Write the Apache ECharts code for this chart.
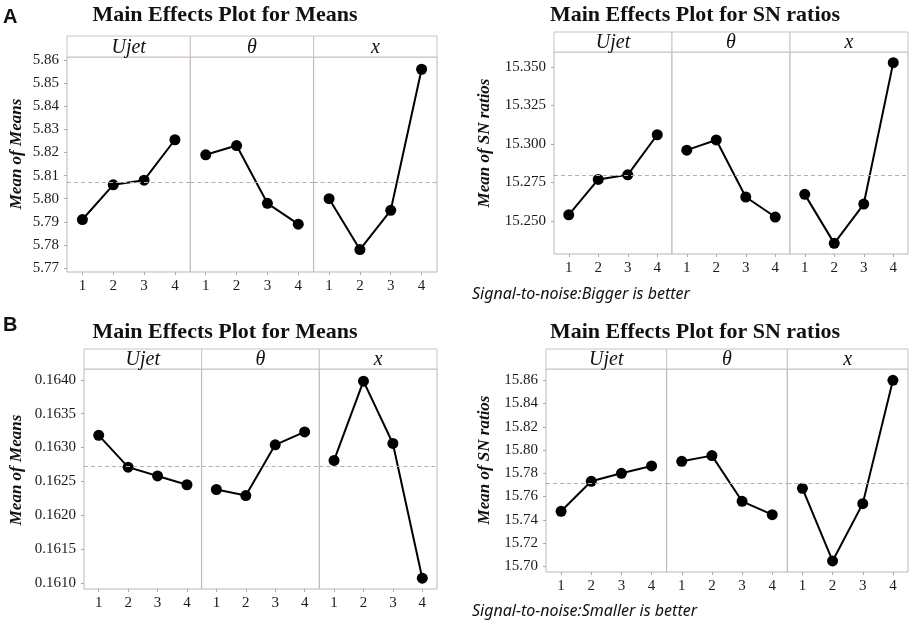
<!DOCTYPE html>
<html>
<head>
<meta charset="utf-8">
<script src="https://cdn.jsdelivr.net/npm/echarts@6/dist/echarts.min.js"></script>
<style>
html, body { margin: 0; padding: 0; background: #fff; }
#main { width: 913px; height: 622px; }
</style>
</head>
<body>
<div id="main"></div>
<script>
var levels = ['1', '2', '3', '4'];
var factors = ['Ujet', 'θ', 'x'];

// A - means (rows: Ujet, theta, x)
var meansA = [
    [5.791, 5.806, 5.808, 5.8255],
    [5.819, 5.823, 5.798, 5.789],
    [5.800, 5.778, 5.795, 5.856]
];
var meanLineA = 5.8073;
var ticksMeansA = [5.77, 5.78, 5.79, 5.80, 5.81, 5.82, 5.83, 5.84, 5.85, 5.86];

// A - SN ratios
var snA = [
    [15.254, 15.277, 15.280, 15.306],
    [15.296, 15.3026, 15.2656, 15.2526],
    [15.2673, 15.2355, 15.261, 15.3528]
];
var snLineA = 15.2794;
var ticksSnA = [15.250, 15.275, 15.300, 15.325, 15.350];

// B - means
var meansB = [
    [0.16318, 0.16271, 0.16258, 0.16245],
    [0.16238, 0.16229, 0.16304, 0.16323],
    [0.16281, 0.16398, 0.16306, 0.16107]
];
var meanLineB = 0.16273;
var ticksMeansB = [0.1610, 0.1615, 0.1620, 0.1625, 0.1630, 0.1635, 0.1640];

// B - SN ratios
var snB = [
    [15.7473, 15.7731, 15.780, 15.7863],
    [15.7903, 15.7952, 15.7559, 15.7444],
    [15.7671, 15.7046, 15.7539, 15.860]
];
var snLineB = 15.7714;
var ticksSnB = [15.70, 15.72, 15.74, 15.76, 15.78, 15.80, 15.82, 15.84, 15.86];

var serif = '"Liberation Serif", "Times New Roman", serif';

var panels = [
    { data: meansA, line: meanLineA, ticks: ticksMeansA, digits: 2, yMin: 5.7683, yMax: 5.8613,
      left: 67, right: 437, headTop: 36, top: 57, bottom: 272,
      title: 'Main Effects Plot for Means', titleX: 225, titleY: 15,
      yName: 'Mean of Means', nameX: 17, nameY: 154, letter: 'A', letterY: 17 },
    { data: snA, line: snLineA, ticks: ticksSnA, digits: 3, yMin: 15.2286, yMax: 15.3597,
      left: 554, right: 908, headTop: 32, top: 52, bottom: 254,
      title: 'Main Effects Plot for SN ratios', titleX: 695, titleY: 15,
      yName: 'Mean of SN ratios', nameX: 485, nameY: 143,
      note: 'Signal-to-noise:Bigger is better', noteY: 294 },
    { data: meansB, line: meanLineB, ticks: ticksMeansB, digits: 4, yMin: 0.16091, yMax: 0.16416,
      left: 84, right: 437, headTop: 349, top: 369, bottom: 589,
      title: 'Main Effects Plot for Means', titleX: 225, titleY: 332,
      yName: 'Mean of Means', nameX: 17, nameY: 470, letter: 'B', letterY: 325 },
    { data: snB, line: snLineB, ticks: ticksSnB, digits: 2, yMin: 15.6951, yMax: 15.8697,
      left: 546, right: 908, headTop: 349, top: 369, bottom: 572,
      title: 'Main Effects Plot for SN ratios', titleX: 695, titleY: 332,
      yName: 'Mean of SN ratios', nameX: 485, nameY: 460,
      note: 'Signal-to-noise:Smaller is better', noteY: 611 }
];

var grids = [], xAxes = [], yAxes = [], series = [], graphics = [];

function textEl(x, y, text, font, align, rotation) {
    return {
        type: 'text', x: x, y: y, rotation: rotation || 0, silent: true,
        style: {
            text: text, font: font, fill: '#111',
            textAlign: align, align: align,
            textVerticalAlign: 'middle', verticalAlign: 'middle'
        }
    };
}

panels.forEach(function (p, pi) {
    var w = (p.right - p.left) / 3;

    graphics.push(textEl(p.titleX, p.titleY, p.title, 'bold 22px "Liberation Serif"', 'center'));
    graphics.push(textEl(p.nameX, p.nameY, p.yName, 'italic bold 17px "Liberation Serif"', 'center', Math.PI / 2));
    if (p.letter) {
        graphics.push(textEl(3, p.letterY, p.letter, 'bold 20px "Liberation Sans"', 'left'));
    }
    if (p.note) {
        graphics.push(textEl(472, p.noteY, p.note, 'italic 16px "Noto Sans"', 'left'));
    }

    for (var f = 0; f < 3; f++) {
        var idx = pi * 3 + f;
        var gl = p.left + f * w;

        grids.push({
            left: gl, top: p.top, width: w, height: p.bottom - p.top,
            show: true, borderColor: '#bdb4b7', borderWidth: 1, backgroundColor: '#fff'
        });

        // header strip
        graphics.push({
            type: 'rect', silent: true,
            shape: { x: gl, y: p.headTop, width: w, height: p.top - p.headTop },
            style: { fill: '#fff', stroke: '#cfbfc4', lineWidth: 1 }
        });
        graphics.push(textEl(gl + w / 2, (p.headTop + p.top) / 2 + 1, factors[f], 'italic 20px "Liberation Serif"', 'center'));

        xAxes.push({
            gridIndex: idx, type: 'category', data: levels, boundaryGap: true,
            axisLine: { show: false },
            axisTick: { show: true, alignWithLabel: true, length: 3, lineStyle: { color: '#aaa' } },
            axisLabel: { margin: 7, color: '#1a1a1a', fontFamily: serif, fontSize: 15 },
            splitLine: { show: false }
        });

        (function (digits) {
            yAxes.push({
                gridIndex: idx, type: 'value', min: p.yMin, max: p.yMax,
                axisLine: { show: false },
                splitLine: { show: false },
                axisTick: { show: f === 0, length: 3, customValues: p.ticks, lineStyle: { color: '#aaa' } },
                axisLabel: {
                    show: f === 0, customValues: p.ticks, margin: 8,
                    color: '#1a1a1a', fontFamily: serif, fontSize: 15,
                    formatter: function (v) { return v.toFixed(digits); }
                }
            });
        })(p.digits);

        series.push({
            type: 'line', xAxisIndex: idx, yAxisIndex: idx,
            data: p.data[f],
            symbol: 'circle', symbolSize: 11,
            itemStyle: { color: '#000' },
            lineStyle: { color: '#000', width: 2 },
            emphasis: { disabled: true },
            markLine: {
                silent: true, symbol: 'none', label: { show: false }, precision: 6,
                lineStyle: { type: [4, 3], color: '#b0b0b0', width: 1 },
                data: [{ yAxis: p.line }]
            },
            z: 3
        });
    }
});

var chart = echarts.init(document.getElementById('main'));
chart.setOption({
    backgroundColor: '#fff',
    animation: false,
    textStyle: { fontFamily: serif },
    grid: grids,
    xAxis: xAxes,
    yAxis: yAxes,
    series: series,
    graphic: { elements: graphics }
});
</script>
</body>
</html>
